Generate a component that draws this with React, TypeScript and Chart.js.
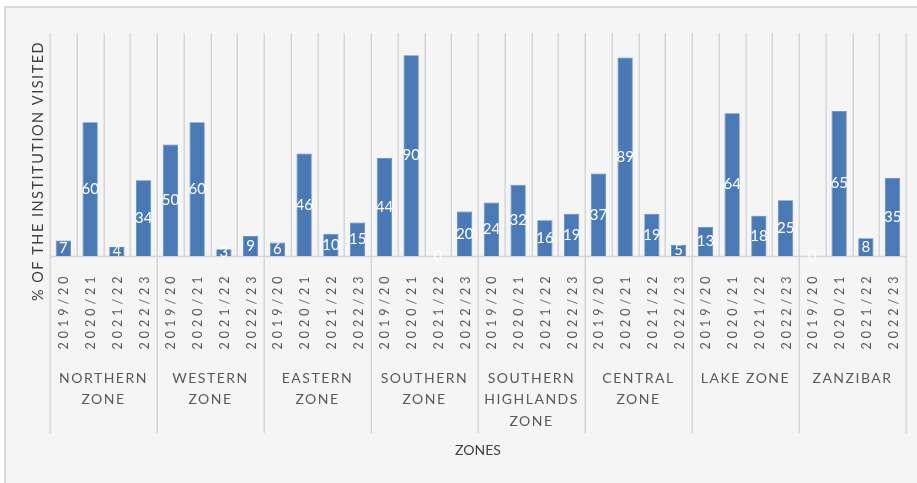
import React, { useEffect, useRef } from "react";
import { Chart, registerables } from "chart.js";

Chart.register(...registerables);

const years = ["2019/20", "2020/21", "2021/22", "2022/23"];
const zones = [
  ["NORTHERN", "ZONE"],
  ["WESTERN", "ZONE"],
  ["EASTERN", "ZONE"],
  ["SOUTHERN", "ZONE"],
  ["SOUTHERN", "HIGHLANDS", "ZONE"],
  ["CENTRAL", "ZONE"],
  ["LAKE ZONE"],
  ["ZANZIBAR"],
];
const northern = [7, 60, 4, 34];
const western = [50, 60, 3, 9];
const eastern = [6, 46, 10, 15];
const southern = [44, 90, 0, 20];
const southernHighlands = [24, 32, 16, 19];
const central = [37, 89, 19, 5];
const lake = [13, 64, 18, 25];
const zanzibar = [0, 65, 8, 35];
const zoneValues = [northern, western, eastern, southern, southernHighlands, central, lake, zanzibar];

const xTitle = "ZONES";
const yTitle = "% OF THE INSTITUTION VISITED";

const FONT = "Lato, 'Open Sans', sans-serif";
const BAR = "#4a7ab6";
const GRID = "#d6d6d6";
const TEXT = "#595959";

export default function App() {
  const ref = useRef<HTMLCanvasElement | null>(null);

  useEffect(() => {
    const labels: string[] = [];
    const values: number[] = [];
    zones.forEach((z, zi) => {
      years.forEach((y, yi) => {
        labels.push(z.join(" ") + " " + y);
        values.push(zoneValues[zi][yi]);
      });
    });

    const decor = {
      id: "decor",
      beforeDraw(chart: any) {
        const ctx = chart.ctx;
        const W = chart.width;
        const H = chart.height;
        ctx.save();
        ctx.fillStyle = "#ffffff";
        ctx.fillRect(0, 0, W, H);
        ctx.fillStyle = "#f5f5f5";
        ctx.fillRect(5, 7, W - 5, H - 7);
        ctx.fillStyle = "#d9d9d9";
        ctx.fillRect(4, 6, W - 4, 2);
        ctx.fillRect(4, 6, 2, H - 6);
        // grid lines
        const xs = chart.scales.x;
        const area = chart.chartArea;
        const n = labels.length;
        const step = (area.right - area.left) / n;
        ctx.strokeStyle = GRID;
        ctx.lineWidth = 1.5;
        for (let i = 0; i <= n; i++) {
          const x = Math.round(area.left + i * step) + 0.25;
          ctx.beginPath();
          ctx.moveTo(x, area.top);
          ctx.lineTo(x, i % 4 === 0 ? 433 : area.bottom);
          ctx.stroke();
        }
        ctx.beginPath();
        ctx.moveTo(area.left, area.bottom + 0.5);
        ctx.lineTo(area.right, area.bottom + 0.5);
        ctx.stroke();

        // year labels
        ctx.fillStyle = TEXT;
        ctx.font = `12.5px ${FONT}`;
        (ctx as any).letterSpacing = "4px";
        ctx.textAlign = "center";
        ctx.textBaseline = "middle";
        for (let i = 0; i < n; i++) {
          const x = xs.getPixelForValue(i);
          ctx.save();
          ctx.translate(x + 1, 311);
          ctx.rotate(-Math.PI / 2);
          ctx.fillText(years[i % 4], 0, 0);
          ctx.restore();
        }
        // zone labels
        ctx.font = `14px ${FONT}`;
        (ctx as any).letterSpacing = "1.5px";
        zones.forEach((z, zi) => {
          const cx = area.left + (zi * 4 + 2) * step;
          z.forEach((line, li) => {
            ctx.fillText(line, cx, 378 + li * 21.7);
          });
        });
        // x title
        (ctx as any).letterSpacing = "0px";
        ctx.font = `14px ${FONT}`;
        ctx.fillStyle = "#404040";
        ctx.fillText(xTitle, (area.left + area.right) / 2, 450);
        // y title
        ctx.save();
        ctx.translate(38, 171);
        ctx.rotate(-Math.PI / 2);
        ctx.font = `14.5px ${FONT}`;
        (ctx as any).letterSpacing = "1.5px";
        ctx.fillText(yTitle, 0, 0);
        ctx.restore();
        ctx.restore();
      },
      afterDatasetsDraw(chart: any) {
        const ctx = chart.ctx;
        const meta = chart.getDatasetMeta(0);
        ctx.save();
        ctx.fillStyle = "#ffffff";
        ctx.font = `15px ${FONT}`;
        ctx.textAlign = "center";
        ctx.textBaseline = "middle";
        meta.data.forEach((bar: any, i: number) => {
          const v = chart.data.datasets[0].data[i];
          const cy = (bar.y + bar.base) / 2;
          ctx.fillText(String(v), bar.x, cy);
        });
        ctx.restore();
      },
    };

    const chart = new Chart(ref.current as HTMLCanvasElement, {
      type: "bar",
      data: {
        labels,
        datasets: [
          {
            data: values,
            backgroundColor: BAR,
            borderColor: "#5a88c0",
            borderWidth: 0.8,
            barPercentage: 0.57,
            categoryPercentage: 1,
          },
        ],
      },
      options: {
        animation: false,
        responsive: true,
        maintainAspectRatio: false,
        layout: { padding: { left: 50, right: 11, top: 33, bottom: 227 } },
        plugins: { legend: { display: false }, tooltip: { enabled: false }, title: { display: false } },
        scales: {
          x: { display: false, offset: true },
          y: { display: false, min: 0, max: 100 },
        },
      },
      plugins: [decor],
    });
    return () => chart.destroy();
  }, []);

  return (
    <div style={{ position: "fixed", left: 0, top: 0, width: 917, height: 483, background: "#fff" }}>
      <canvas ref={ref} />
    </div>
  );
}
